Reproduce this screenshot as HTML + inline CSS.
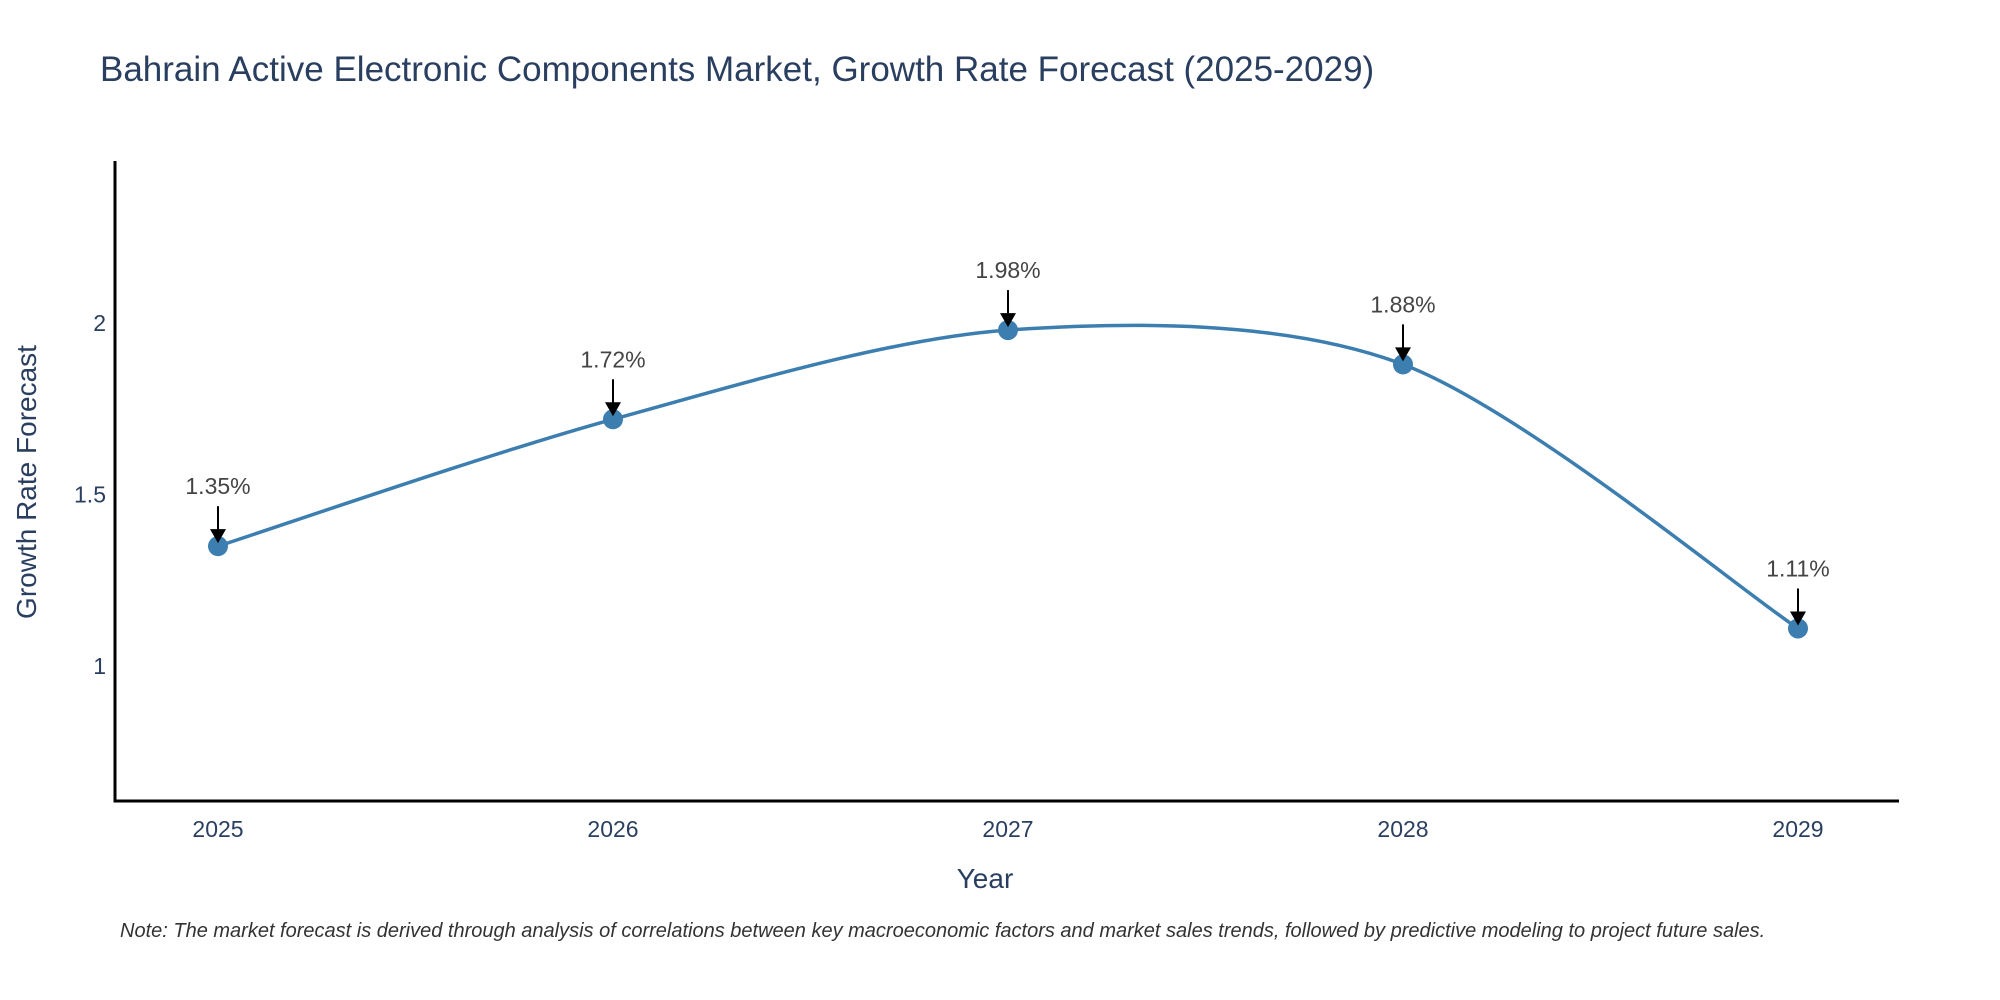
<!DOCTYPE html>
<html><head><meta charset="utf-8"><style>
html,body{margin:0;padding:0;background:#fff;}
svg{display:block;font-family:"Liberation Sans",sans-serif;}
</style></head><body>
<svg id="chart" width="2000" height="1000" viewBox="0 0 2000 1000">
<text x="100" y="81" font-size="35" fill="#2a3f5f">Bahrain Active Electronic Components Market, Growth Rate Forecast (2025-2029)</text>
<g id="plot"></g>
<text x="985" y="888" font-size="28" fill="#2a3f5f" text-anchor="middle">Year</text>
<text transform="translate(36,482) rotate(-90)" font-size="28" fill="#2a3f5f" text-anchor="middle">Growth Rate Forecast</text>
<text x="120" y="937" font-size="20" font-style="italic" fill="#333">Note: The market forecast is derived through analysis of correlations between key macroeconomic factors and market sales trends, followed by predictive modeling to project future sales.</text>
</svg>
<script>
const years = [2025, 2026, 2027, 2028, 2029];
const growth = [1.35, 1.72, 1.98, 1.88, 1.11];
const valueLabels = ["1.35%", "1.72%", "1.98%", "1.88%", "1.11%"];
const yTicks = [1, 1.5, 2];

const X0 = 115, X1 = 1899, Y0 = 801, Y1 = 161;
const yMin = 0.607, yMax = 2.473;
function xs(v){ return 218 + (v - 2025) * 395; }
function ys(v){ return Y0 - (v - yMin) / (yMax - yMin) * (Y0 - Y1); }
const NS = "http://www.w3.org/2000/svg";
const g = document.getElementById('plot');
function mk(t, a){ const e = document.createElementNS(NS, t); for (const k in a) e.setAttribute(k, a[k]); g.appendChild(e); return e; }

const ya = mk('line', {x1:X0, y1:Y1, x2:X0, y2:Y0+1.5, stroke:'#000', 'stroke-width':3});


const xa = mk('line', {x1:X0-1.5, y1:Y0, x2:X1, y2:Y0, stroke:'#000', 'stroke-width':3});



yTicks.forEach(t => {
  const e = mk('text', {x:106, y:ys(t)+8, 'font-size':23, fill:'#2a3f5f', 'text-anchor':'end'});
  e.textContent = String(t);
  
  
});
years.forEach(yr => {
  const e = mk('text', {x:xs(yr), y:837, 'font-size':23, fill:'#2a3f5f', 'text-anchor':'middle'});
  e.textContent = String(yr);
  
  
});

const pts = years.map((yr, i) => [xs(yr), ys(growth[i])]);
let d = 'M' + pts[0][0] + ',' + pts[0][1];
const s = 0.15;
for (let i = 0; i < pts.length - 1; i++) {
  const p0 = pts[Math.max(0, i-1)], p1 = pts[i], p2 = pts[i+1], p3 = pts[Math.min(pts.length-1, i+2)];
  const c1 = [p1[0] + (p2[0]-p0[0])*s, p1[1] + (p2[1]-p0[1])*s];
  const c2 = [p2[0] - (p3[0]-p1[0])*s, p2[1] - (p3[1]-p1[1])*s];
  d += ' C' + c1.join(',') + ' ' + c2.join(',') + ' ' + p2.join(',');
}
const line = mk('path', {d:d, fill:'none', stroke:'#3d7eb0', 'stroke-width':3.5});



pts.forEach((p, i) => {
  const c = mk('circle', {cx:p[0], cy:p[1], r:10, fill:'#3d7eb0'});
  
  
  const a = mk('line', {x1:p[0], y1:p[1]-40, x2:p[0], y2:p[1]-14, stroke:'#000', 'stroke-width':2});
  
  
  const h = mk('polygon', {points:(p[0]-8)+','+(p[1]-17)+' '+(p[0]+8)+','+(p[1]-17)+' '+p[0]+','+(p[1]-3), fill:'#000'});
  
  
  const t = mk('text', {x:p[0], y:p[1]-52, 'font-size':23, fill:'#444', 'text-anchor':'middle'});
  t.textContent = valueLabels[i];
  
  
});
</script>
</body></html>
